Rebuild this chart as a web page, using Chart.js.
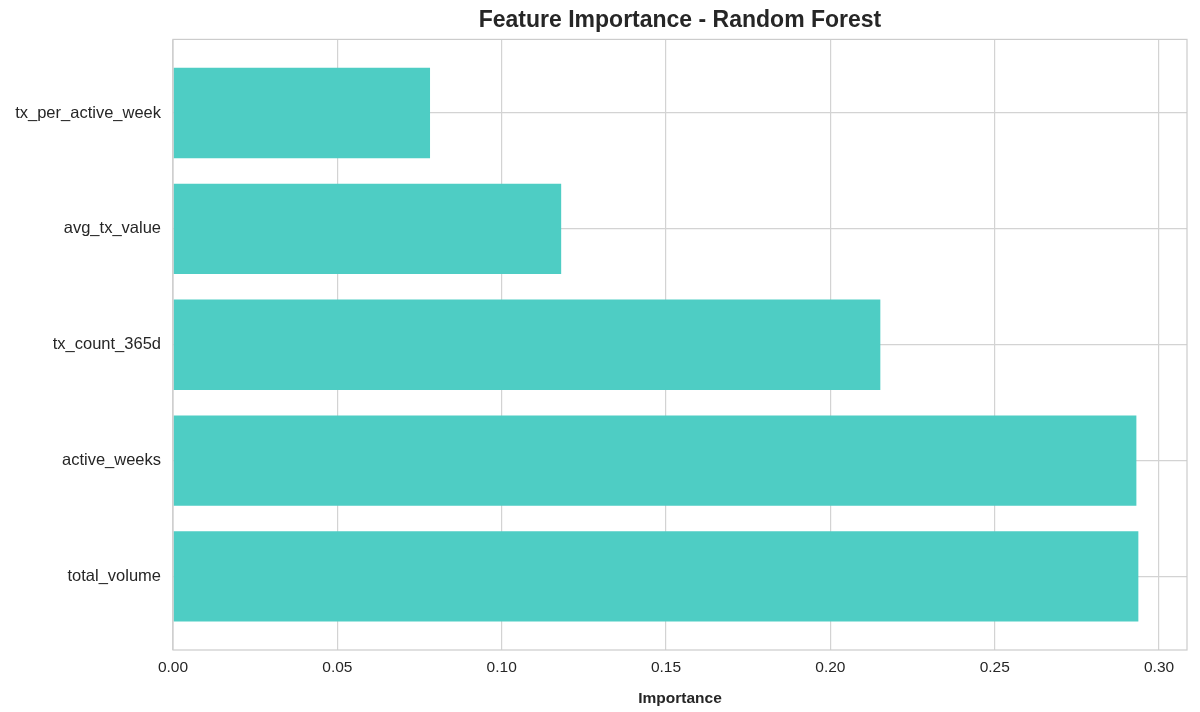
<!DOCTYPE html>
<html>
<head>
<meta charset="utf-8">
<script src="https://cdn.jsdelivr.net/npm/chart.js@4"></script>
<style>
  html, body { margin: 0; padding: 0; background: #fff; }
  #wrap { width: 1200px; height: 712px; }
</style>
</head>
<body>
<div id="wrap"><canvas id="chart" width="1200" height="712"></canvas></div>
<script>
const features = ['tx_per_active_week', 'avg_tx_value', 'tx_count_365d', 'active_weeks', 'total_volume'];
const importance = [0.0782, 0.1181, 0.2152, 0.2931, 0.2937];
const xTicks = [0, 0.05, 0.10, 0.15, 0.20, 0.25, 0.30];

const gridColor = '#d3d3d3';
const titleText = 'Feature Importance - Random Forest';
const titleFont = { family: 'Arial, Liberation Sans', size: 23, weight: 'bold' };

// box around the plot area, title centred over the plot
const frame = {
    id: 'frame',
    afterDraw(chart) {
        const a = chart.chartArea, ctx = chart.ctx;
        ctx.save();
        ctx.strokeStyle = '#cccccc';
        ctx.lineWidth = 1.2;
        ctx.strokeRect(a.left, a.top, a.right - a.left, a.bottom - a.top);
        ctx.fillStyle = '#262626';
        ctx.font = 'bold 23px Arial, Liberation Sans';
        ctx.textAlign = 'center';
        ctx.textBaseline = 'middle';
        ctx.fillText(titleText, (a.left + a.right) / 2, 21);
        ctx.restore();
    }
};

new Chart(document.getElementById('chart').getContext('2d'), {
    type: 'bar',
    data: {
        datasets: [{
            data: importance.map((v, i) => ({ x: v, y: i })),
            backgroundColor: '#4ECDC4',
            barPercentage: 0.78,
            categoryPercentage: 1
        }]
    },
    plugins: [frame],
    options: {
        indexAxis: 'y',
        responsive: false,
        animation: false,
        layout: { padding: { left: 8, right: 13, top: 0, bottom: 0 } },
        plugins: {
            legend: { display: false },
            tooltip: { enabled: false },
            title: {
                display: true,
                text: titleText,
                color: 'rgba(0,0,0,0)',
                font: { family: 'Arial, Liberation Sans', size: 22, weight: 'bold' },
                padding: { top: 6, bottom: 7 }
            }
        },
        scales: {
            x: {
                type: 'linear',
                min: 0,
                max: 0.3085,
                afterBuildTicks: axis => { axis.ticks = xTicks.map(v => ({ value: v })); },
                afterFit: scale => { scale.height = 62; },
                grid: { color: gridColor, lineWidth: 1.2, drawTicks: false },
                border: { display: false },
                ticks: {
                    padding: 8,
                    color: '#262626',
                    font: { family: 'Arial, Liberation Sans', size: 15.5 },
                    callback: v => v.toFixed(2)
                },
                title: {
                    display: true,
                    text: 'Importance',
                    color: '#262626',
                    font: { family: 'Arial, Liberation Sans', size: 15.5, weight: 'bold' },
                    padding: { top: 2 }
                }
            },
            y: {
                type: 'linear',
                reverse: true,
                offset: false,
                min: -0.635,
                max: 4.635,
                afterBuildTicks: axis => { axis.ticks = features.map((f, i) => ({ value: i })); },
                afterFit: scale => { scale.width = 165; },
                grid: { color: gridColor, lineWidth: 1.2, drawTicks: false, offset: false },
                border: { display: false },
                ticks: {
                    padding: 12,
                    color: '#262626',
                    font: { family: 'Arial, Liberation Sans', size: 16.5 },
                    callback: v => features[v]
                }
            }
        }
    }
});
</script>
</body>
</html>
